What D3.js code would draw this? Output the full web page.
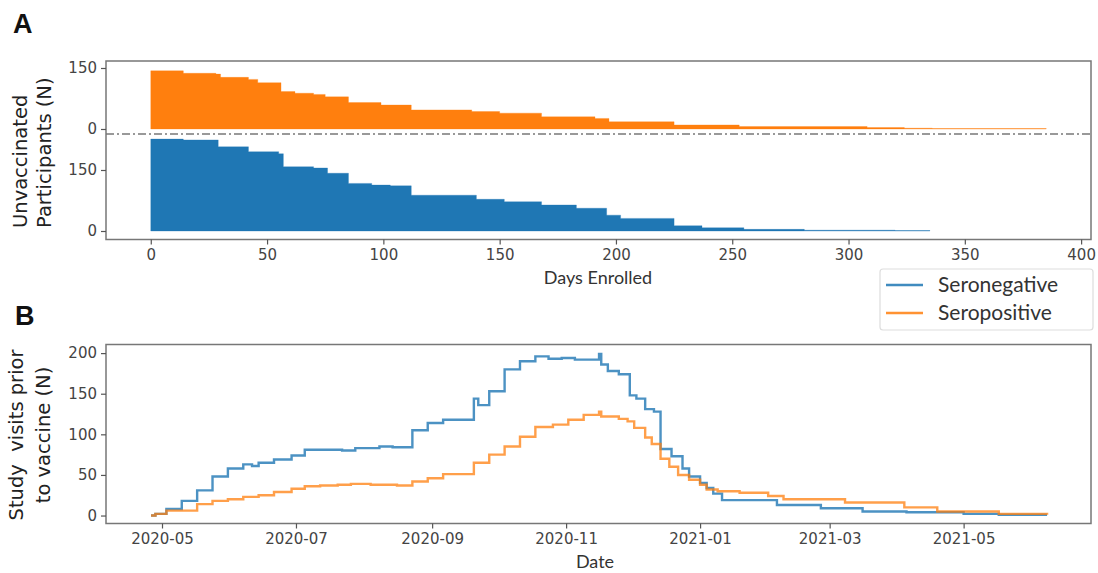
<!DOCTYPE html>
<html>
<head>
<meta charset="utf-8">
<script src="https://cdn.jsdelivr.net/npm/d3@7"></script>
<style>
  body { margin: 0; background: #fff; }
  svg { display: block; }
  .tick text { font-family: "DejaVu Sans", sans-serif; font-size: 15px; fill: #444; }
  .tick line { stroke: #555; stroke-width: 1.2; }
</style>
</head>
<body>
<svg width="1098" height="573"></svg>
<script>
// panel A: unvaccinated participants by days enrolled (step values)
const posDays = [0, 14, 28, 30, 42, 46, 56, 62, 70, 75, 85, 99, 112, 138, 150, 168, 191, 197, 225, 253, 308, 324, 336, 385];
const posCount = [143, 137, 135, 127, 122, 114, 92, 88, 85, 79, 65, 59, 47, 43, 39, 30, 26, 18, 10, 6, 3.5, 2, 1, 1];
const negDays = [0, 14, 29, 42, 55, 57, 70, 76, 85, 95, 103, 112, 140, 152, 168, 183, 196, 202, 225, 237, 255, 281, 320, 335];
const negCount = [226, 224, 207, 195, 190, 158, 155, 142, 117, 113, 111, 88, 78, 72, 64, 56, 39, 31, 13, 8, 4, 2, 1, 1];
const daysTicks = [0, 50, 100, 150, 200, 250, 300, 350, 400];

// panel B: study visits prior to vaccine
const negDates = ["2020-04-26","2020-04-28","2020-05-03","2020-05-10","2020-05-17","2020-05-24","2020-05-31","2020-06-07","2020-06-11","2020-06-14","2020-06-21","2020-06-29","2020-07-05","2020-07-22","2020-07-28","2020-08-08","2020-08-14","2020-08-23","2020-08-30","2020-09-06","2020-09-20","2020-09-22","2020-09-27","2020-10-04","2020-10-11","2020-10-18","2020-10-24","2020-10-30","2020-11-05","2020-11-16","2020-11-17","2020-11-20","2020-11-25","2020-11-30","2020-12-03","2020-12-07","2020-12-11","2020-12-14","2020-12-19","2020-12-24","2020-12-27","2021-01-01","2021-01-04","2021-01-07","2021-01-11","2021-02-05","2021-02-25","2021-03-16","2021-04-05","2021-05-01","2021-05-17","2021-06-08"];
const negVisits = [0,2,8,18,31,48,58,63,61,65,69,74,81,80,83,85,84,105,114,118,144,136,153,180,190,196,193,194,192,199,186,178,174,148,144,131,128,82,73,58,48,40,34,27,19,13,9,5,4,2,1,1];
const posDates = ["2020-04-26","2020-04-28","2020-05-03","2020-05-17","2020-05-24","2020-05-31","2020-06-07","2020-06-14","2020-06-21","2020-06-29","2020-07-05","2020-07-12","2020-07-20","2020-07-26","2020-08-04","2020-08-16","2020-08-23","2020-08-30","2020-09-06","2020-09-20","2020-09-27","2020-10-04","2020-10-11","2020-10-18","2020-10-26","2020-11-02","2020-11-09","2020-11-16","2020-11-17","2020-11-25","2020-11-29","2020-12-02","2020-12-07","2020-12-10","2020-12-14","2020-12-18","2020-12-22","2020-12-27","2021-01-01","2021-01-04","2021-01-09","2021-01-19","2021-02-01","2021-02-08","2021-03-08","2021-04-04","2021-04-19","2021-05-17","2021-06-08"];
const posVisits = [0,2,6,14,18,20,23,25,29,33,36,37,38,39,38,37,42,46,51,65,75,85,97,109,112,118,124,128,122,119,116,108,96,88,70,60,50,44,38,32,30,28,24,20,16,10,5,2,1];

const seriesNames = ["Seronegative", "Seropositive"];
const blue = '#1f77b4', orange = '#ff7f0e';

const svg = d3.select('svg');
const left = 106, right = 1091;
const parse = d3.timeParse('%Y-%m-%d');

// ---------- panel A ----------
const aTop = 61, aMid = 134, aBot = 239.5;
const xA = d3.scaleLinear().domain([-19.25, 404.25]).range([left, right]);
const yUp = d3.scaleLinear().domain([-12.3, 167.2]).range([aMid, aTop]);
const yLo = d3.scaleLinear().domain([-20.9, 238.5]).range([aBot, aMid]);

const posA = posDays.map((d, i) => ({day: d, v: posCount[i]}));
const negA = negDays.map((d, i) => ({day: d, v: negCount[i]}));

const areaUp = d3.area().curve(d3.curveStepAfter)
  .x(d => xA(d.day)).y0(yUp(0)).y1(d => yUp(d.v));
const areaLo = d3.area().curve(d3.curveStepAfter)
  .x(d => xA(d.day)).y0(yLo(0)).y1(d => yLo(d.v));

svg.append('path').datum(posA).attr('d', areaUp).attr('fill', orange)
  .attr('stroke', orange).attr('stroke-width', 0.6).attr('stroke-opacity', 0.5);
svg.append('path').datum(negA).attr('d', areaLo).attr('fill', blue)
  .attr('stroke', blue).attr('stroke-width', 0.6).attr('stroke-opacity', 0.5);

svg.append('line')
  .attr('x1', left).attr('x2', right).attr('y1', aMid).attr('y2', aMid)
  .attr('stroke', '#999').attr('stroke-width', 2)
  .attr('stroke-dasharray', '8,3,2,3');

svg.append('rect').attr('x', left).attr('y', aTop)
  .attr('width', right - left).attr('height', aBot - aTop)
  .attr('fill', 'none').attr('stroke', '#777').attr('stroke-width', 1.5);

const yUpG = svg.append('g').attr('transform', `translate(${left},0)`)
  .call(d3.axisLeft(yUp).tickValues([0, 150]).tickSize(5).tickPadding(4));
yUpG.select('.domain').remove();
const yLoG = svg.append('g').attr('transform', `translate(${left},0)`)
  .call(d3.axisLeft(yLo).tickValues([0, 150]).tickSize(5).tickPadding(4));
yLoG.select('.domain').remove();
const xAG = svg.append('g').attr('transform', `translate(0,${aBot})`)
  .call(d3.axisBottom(xA).tickValues(daysTicks).tickSize(5).tickPadding(5));
xAG.select('.domain').remove();

svg.append('text').attr('x', 598).attr('y', 284).attr('text-anchor', 'middle')
  .style('font-family', 'Lato, sans-serif').style('font-size', '18px').attr('fill', '#333')
  .text('Days Enrolled');

const yLabA = svg.append('g').attr('transform', 'translate(0,228) rotate(-90)')
  .style('font-family', '"DejaVu Sans", sans-serif').style('font-size', '19.5px').attr('fill', '#222');
yLabA.append('text').attr('x', 0).attr('y', 27).text('Unvaccinated');
yLabA.append('text').attr('x', 0).attr('y', 51).text('Participants (N)');

svg.append('text').attr('x', 13).attr('y', 33)
  .style('font-family', '"Liberation Sans", sans-serif').style('font-weight', 'bold')
  .style('font-size', '27px').attr('fill', '#111').text('A');

// ---------- legend ----------
const lg = svg.append('g');
lg.append('rect').attr('x', 880).attr('y', 269).attr('width', 213).attr('height', 61)
  .attr('rx', 3).attr('fill', '#fff').attr('stroke', '#ddd').attr('stroke-width', 1.2);
[blue, orange].forEach((c, i) => {
  const yy = 285 + i * 28;
  lg.append('line').attr('x1', 886).attr('x2', 923).attr('y1', yy).attr('y2', yy)
    .attr('stroke', c).attr('stroke-width', 2.5).attr('stroke-opacity', 0.85);
  lg.append('text').attr('x', 938).attr('y', yy + 7)
    .style('font-family', 'Lato, sans-serif').style('font-size', '21px').attr('fill', '#333')
    .text(seriesNames[i]);
});

// ---------- panel B ----------
const bTop = 344.5, bBot = 523.5;
const xB = d3.scaleTime()
  .domain([new Date(2020, 3, 5, 12), new Date(2021, 5, 28)])
  .range([left, right]);
const yB = d3.scaleLinear().domain([-9.8, 210.6]).range([bBot, bTop]);

const negB = negDates.map((d, i) => ({date: parse(d), v: negVisits[i]}));
const posB = posDates.map((d, i) => ({date: parse(d), v: posVisits[i]}));

const lineB = d3.line().curve(d3.curveStepAfter).x(d => xB(d.date)).y(d => yB(d.v));

svg.append('path').datum(negB).attr('d', lineB).attr('fill', 'none')
  .attr('stroke', blue).attr('stroke-width', 2.4).attr('stroke-opacity', 0.8);
svg.append('path').datum(posB).attr('d', lineB).attr('fill', 'none')
  .attr('stroke', orange).attr('stroke-width', 2.4).attr('stroke-opacity', 0.75);

svg.append('rect').attr('x', left).attr('y', bTop)
  .attr('width', right - left).attr('height', bBot - bTop)
  .attr('fill', 'none').attr('stroke', '#777').attr('stroke-width', 1.5);

const yBG = svg.append('g').attr('transform', `translate(${left},0)`)
  .call(d3.axisLeft(yB).tickValues([0, 50, 100, 150, 200]).tickSize(5).tickPadding(4));
yBG.select('.domain').remove();
const xBG = svg.append('g').attr('transform', `translate(0,${bBot})`)
  .call(d3.axisBottom(xB).ticks(d3.timeMonth.every(2)).tickFormat(d3.timeFormat('%Y-%m'))
    .tickSize(5).tickPadding(5));
xBG.select('.domain').remove();

svg.append('text').attr('x', 595).attr('y', 568).attr('text-anchor', 'middle')
  .style('font-family', 'Lato, sans-serif').style('font-size', '18px').attr('fill', '#333')
  .text('Date');

const yLabB = svg.append('g').attr('transform', 'translate(0,435) rotate(-90)')
  .style('font-family', '"DejaVu Sans", sans-serif').style('font-size', '19.5px').attr('fill', '#222')
  .attr('text-anchor', 'middle');
yLabB.append('text').attr('x', 0).attr('y', 23).attr('xml:space', 'preserve').style('white-space', 'pre')
  .text('Study  visits prior');
yLabB.append('text').attr('x', 0).attr('y', 50).text('to vaccine (N)');

svg.append('text').attr('x', 15).attr('y', 325)
  .style('font-family', '"Liberation Sans", sans-serif').style('font-weight', 'bold')
  .style('font-size', '27px').attr('fill', '#111').text('B');
</script>
</body>
</html>
